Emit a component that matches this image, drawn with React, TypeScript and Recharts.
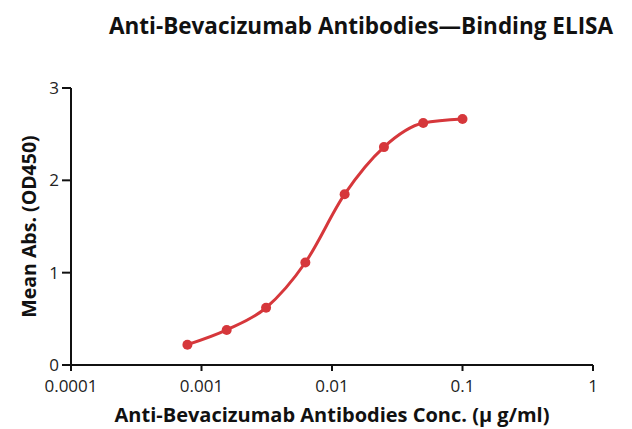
import React from 'react';
import { LineChart, Line, XAxis, YAxis, Label } from 'recharts';

const concentrations = [0.00078, 0.00156, 0.003125, 0.00625, 0.0125, 0.025, 0.05, 0.1];
const meanAbs = [0.22, 0.38, 0.62, 1.11, 1.85, 2.36, 2.62, 2.665];
const xTicks = [0.0001, 0.001, 0.01, 0.1, 1];
const yTicks = [0, 1, 2, 3];

const chartData = concentrations.map((c, i) => ({ conc: c, abs: meanAbs[i] }));

const FONT = '"Open Sans", Lato, sans-serif';
const RED = '#d6373b';

export default function App() {
  return (
    <div style={{ position: 'absolute', left: 0, top: 0, width: 632, height: 429, background: '#fff' }}>
      <LineChart
        width={632}
        height={429}
        data={chartData}
        margin={{ top: 88, right: 39, bottom: 0, left: 0 }}
      >
        <text
          x={361}
          y={34}
          textAnchor="middle"
          style={{ fontFamily: FONT, fontWeight: 700, fontSize: 22.5, fill: '#111' }}
        >
          Anti-Bevacizumab Antibodies—Binding ELISA
        </text>
        <XAxis
          dataKey="conc"
          type="number"
          scale="log"
          domain={[0.0001, 1]}
          ticks={xTicks}
          tickFormatter={(v: number) => String(v)}
          allowDataOverflow
          height={64}
          stroke="#111"
          strokeWidth={2}
          tickSize={6}
          tickMargin={9}
          tick={{ fill: '#222', fontSize: 17, fontFamily: FONT }}
        >
          <Label
            value="Anti-Bevacizumab Antibodies Conc. (µ g/ml)"
            position="insideBottom"
            offset={7}
            style={{ fontFamily: FONT, fontWeight: 700, fontSize: 20, fill: '#111' }}
          />
        </XAxis>
        <YAxis
          type="number"
          domain={[0, 3]}
          ticks={yTicks}
          width={71}
          stroke="#111"
          strokeWidth={2}
          tickSize={9}
          tickMargin={3}
          tick={{ fill: '#222', fontSize: 17, fontFamily: FONT }}
        >
          <Label
            value="Mean Abs. (OD450)"
            angle={-90}
            position="insideLeft"
            offset={29}
            style={{ textAnchor: 'middle', fontFamily: FONT, fontWeight: 700, fontSize: 19.5, fill: '#111' }}
          />
        </YAxis>
        <Line
          type="monotone"
          dataKey="abs"
          stroke={RED}
          strokeWidth={3}
          dot={{ r: 5, fill: RED, stroke: RED, strokeWidth: 0 }}
          isAnimationActive={false}
        />
      </LineChart>
    </div>
  );
}
